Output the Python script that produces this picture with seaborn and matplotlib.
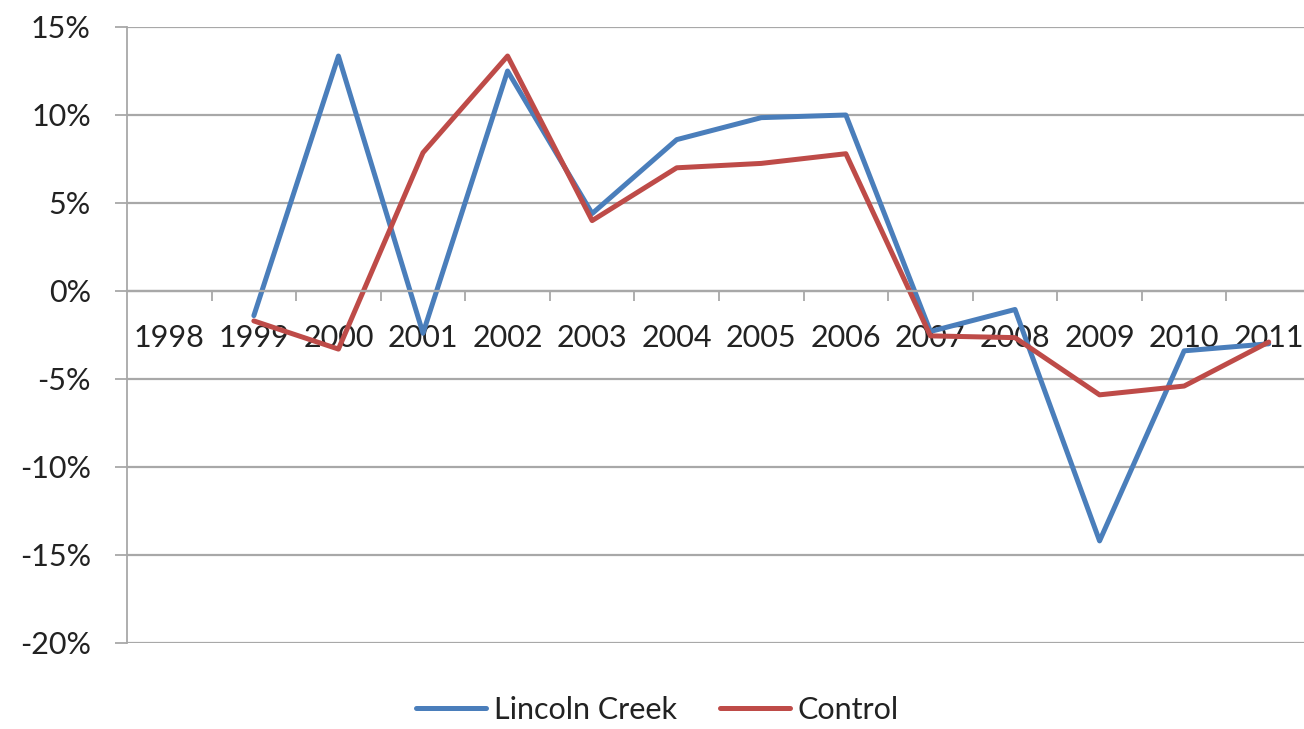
"""
Annual change: Lincoln Creek vs Control, Excel-style line chart.
"""

import numpy as np
import pandas as pd
import matplotlib
matplotlib.use("Agg")
import matplotlib.pyplot as plt
from matplotlib.ticker import PercentFormatter, FixedLocator
import seaborn as sns

# data (percent change per year)
years = [1998, 1999, 2000, 2001, 2002, 2003, 2004, 2005, 2006, 2007, 2008, 2009, 2010, 2011]
lincoln_creek = [np.nan, -1.4, 13.35, -2.4, 12.5, 4.4, 8.6, 9.85, 10.0, -2.3, -1.05, -14.2, -3.4, -3.0]
control = [np.nan, -1.7, -3.3, 7.86, 13.35, 4.0, 7.0, 7.25, 7.8, -2.55, -2.65, -5.9, -5.4, -2.9]
series_names = ["Lincoln Creek", "Control"]
y_ticks = [-20, -15, -10, -5, 0, 5, 10, 15]

df = pd.DataFrame({
    "year": years * 2,
    "change": lincoln_creek + control,
    "series": [series_names[0]] * len(years) + [series_names[1]] * len(years),
})

sns.set_style("white")
plt.rcParams["font.family"] = ["Lato", "DejaVu Sans"]
plt.rcParams["axes.unicode_minus"] = False

fig = plt.figure(figsize=(13.04, 7.29), dpi=100)
ax = fig.add_axes([127 / 1304, 1 - 643 / 729, 1184 / 1304, 616 / 729])

palette = {"Lincoln Creek": "#4A7EBB", "Control": "#BE4B48"}
sns.lineplot(data=df, x="year", y="change", hue="series", palette=palette,
             linewidth=3.6, ax=ax, legend=False, sort=False)

# y axis
ax.set_ylim(-20, 15)
ax.yaxis.set_major_locator(FixedLocator(y_ticks))
ax.yaxis.set_major_formatter(PercentFormatter(xmax=100, decimals=0))
ax.grid(axis="y", color="#a8a8a8", linewidth=1.6)
ax.tick_params(axis="y", direction="out", length=9, width=1.3, color="#a8a8a8",
               pad=17, labelsize=22, labelcolor="#222222", left=True)

# x axis: category axis crossing at 0
ax.set_xlim(years[0] - 0.5, years[-1] + 0.5)
ax.set_xticks(years)
ax.set_xticklabels([str(y) for y in years])
ax.set_xticks(np.arange(years[0] + 0.5, years[-1] + 0.5, 1.0), minor=True)
ax.tick_params(axis="x", which="major", length=0, pad=24, labelsize=22,
               labelcolor="#222222")
ax.tick_params(axis="x", which="minor", direction="out", length=7, width=1.3,
               color="#a8a8a8", bottom=True)
ax.spines["bottom"].set_position(("data", 0))
ax.spines["bottom"].set_color("#a8a8a8")
ax.spines["bottom"].set_linewidth(1.6)
ax.spines["left"].set_color("#a8a8a8")
ax.spines["left"].set_linewidth(1.3)
ax.spines["top"].set_visible(False)
ax.spines["right"].set_visible(False)
ax.set_xlabel("")
ax.set_ylabel("")

# legend at the bottom
handles = [plt.Line2D([], [], color=palette[n], linewidth=3.6) for n in series_names]
fig.legend(handles, series_names, loc="center", bbox_to_anchor=(0.504, 0.026),
           ncol=2, frameon=False, fontsize=22, handlelength=2.3,
           handletextpad=0.25, columnspacing=1.4, labelcolor="#222222",
           borderpad=0.1)

fig.savefig("out.png", dpi=100)
